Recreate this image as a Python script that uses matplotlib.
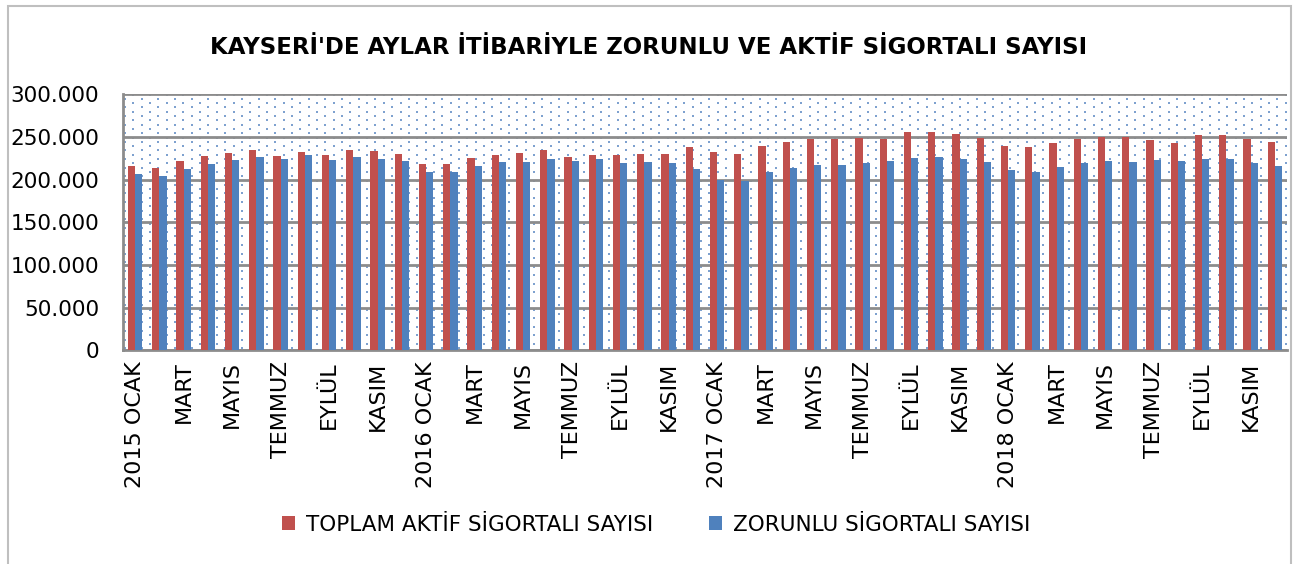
import matplotlib.pyplot as plt
import matplotlib.patches as mpatches
import numpy as np

# data (thousands)
months = ['OCAK', 'ŞUBAT', 'MART', 'NİSAN', 'MAYIS', 'HAZİRAN',
          'TEMMUZ', 'AĞUSTOS', 'EYLÜL', 'EKİM', 'KASIM', 'ARALIK']
years = ['2015', '2016', '2017', '2018']

toplam = [215.4, 213.8, 221.3, 227.2, 230.7, 234.6, 228.0, 232.7, 229.1, 235.0, 233.5, 230.3,
          217.7, 217.7, 224.8, 228.3, 231.1, 234.3, 226.8, 229.1, 228.3, 230.3, 229.5, 238.2,
          231.9, 229.5, 239.4, 244.1, 247.2, 248.0, 248.8, 247.2, 255.9, 255.9, 253.9, 249.2,
          239.8, 237.8, 242.9, 247.2, 250.4, 250.4, 246.9, 242.9, 252.0, 252.0, 247.6, 244.1]
zorunlu = [206.3, 204.7, 212.2, 218.5, 222.4, 226.4, 223.6, 228.7, 222.4, 226.0, 224.4, 221.3,
           208.7, 209.1, 216.1, 220.1, 220.9, 223.6, 221.7, 223.6, 218.9, 220.1, 219.7, 212.6,
           200.0, 198.4, 208.7, 213.4, 216.9, 216.5, 219.3, 221.3, 224.8, 226.0, 224.0, 220.1,
           210.6, 209.1, 214.2, 219.3, 222.0, 220.9, 222.4, 221.3, 223.6, 223.6, 219.7, 216.1]

toplam = np.array(toplam) * 1000
zorunlu = np.array(zorunlu) * 1000

labels = []
for y in years:
    for i, m in enumerate(months):
        labels.append(y + ' ' + m if i == 0 else m)

red = '#C0504D'
blue = '#4F81BD'
grid = '#8C8C8C'

W, H = 1297, 564
fig = plt.figure(figsize=(W / 100, H / 100), dpi=100)
fig.patches.append(mpatches.Rectangle((0.006, -0.01), 0.989, 1.0, transform=fig.transFigure,
                                      fill=False, edgecolor='#BFBFBF', linewidth=1.5))
pos = [0.0948, 0.379, 0.8975, 0.454]
ax = fig.add_axes(pos)

# dotted background pattern of the plot area
aw, ah = pos[2] * W, pos[3] * H
gx, gy = np.meshgrid(np.arange(2, aw, 8.35), np.arange(2, ah, 4.3))
cols, rows = np.meshgrid(np.arange(gx.shape[1]), np.arange(gx.shape[0]))
keep = (cols + rows) % 2 == 0
ax.scatter(gx[keep] / aw, gy[keep] / ah, s=1.6, marker='s', color='#7EA1CF', linewidths=0,
           transform=ax.transAxes, zorder=0.5)

x = np.arange(len(labels))
w = 0.3
ax.bar(x - w / 2, toplam, w, color=red, label='TOPLAM AKTİF SİGORTALI SAYISI', zorder=3)
ax.bar(x + w / 2, zorunlu, w, color=blue, label='ZORUNLU SİGORTALI SAYISI', zorder=3)

ax.set_xlim(-0.5, len(labels) - 0.5)
ax.set_ylim(0, 300000)
yt = np.arange(0, 300001, 50000)
ax.set_yticks(yt)
ax.set_yticklabels(['0'] + ['{:,}'.format(v).replace(',', '.') for v in yt[1:]], fontsize=15.5)
ax.yaxis.grid(True, color=grid, linewidth=2, zorder=1)
ax.set_axisbelow(False)

ax.set_xticks(x[::2])
ax.set_xticklabels(labels[::2], rotation=90, fontsize=16)
ax.tick_params(axis='both', length=0, pad=8)
ax.tick_params(axis='y', pad=17)
for s in ['top', 'right']:
    ax.spines[s].set_visible(False)
for s in ['left', 'bottom']:
    ax.spines[s].set_color(grid)
    ax.spines[s].set_linewidth(2)

fig.text(0.5, 0.915, "KAYSERİ'DE AYLAR İTİBARİYLE ZORUNLU VE AKTİF SİGORTALI SAYISI",
         ha='center', va='center', fontsize=16.5, fontweight='bold')

fig.legend(loc='center', bbox_to_anchor=(0.506, 0.07), ncol=2, frameon=False, fontsize=15.5,
           handlelength=0.6, handleheight=0.6, columnspacing=2.6, handletextpad=0.5)

plt.savefig('out.png', dpi=100)
